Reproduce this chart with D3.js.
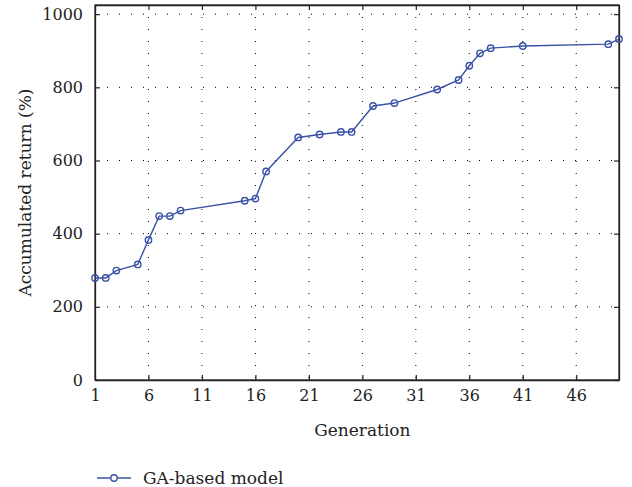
<!DOCTYPE html>
<html>
<head>
<meta charset="utf-8">
<script src="https://cdn.jsdelivr.net/npm/d3@7/dist/d3.min.js"></script>
<style>
  body { margin: 0; background: #fff; }
  svg text { fill: #222; }
</style>
</head>
<body>
<svg id="chart" width="632" height="487"></svg>
<script>
var generations = [1, 2, 3, 5, 6, 7, 8, 9, 15, 16, 17, 20, 22, 24, 25, 27, 29, 33, 35, 36, 37, 38, 41, 49, 50];
var returns = [279, 279, 299, 316, 383, 448, 448, 463, 490, 496, 570, 663, 671, 678, 678, 749, 757, 794, 820, 859, 893, 907, 913, 918, 932];
var xTicks = [1, 6, 11, 16, 21, 26, 31, 36, 41, 46];
var yTicks = [0, 200, 400, 600, 800, 1000];
var seriesName = "GA-based model";

var serif = "'DejaVu Serif', 'Liberation Serif', serif";

var margin = { top: 5, right: 13, bottom: 107, left: 95 },
  svg = d3.select("#chart"),
  outerWidth = 632, outerHeight = 487,
  innerWidth = outerWidth - margin.left - margin.right,
  innerHeight = outerHeight - margin.top - margin.bottom,
  color = "#3a52a6",
  g = svg.append("g").attr("transform", "translate(" + margin.left + "," + margin.top + ")");

var x = d3.scaleLinear().domain([1, 50]).range([0, innerWidth]),
  y = d3.scaleLinear().domain([0, 1025]).range([innerHeight, 0]);

var data = generations.map(function(d, i) { return { gen: d, val: returns[i] }; });

// dotted grid
g.append("g").selectAll("line")
  .data(xTicks.slice(1))
  .enter().append("line")
    .attr("x1", x).attr("x2", x)
    .attr("y1", 0).attr("y2", innerHeight)
    .attr("stroke", "#000").attr("stroke-width", 1)
    .attr("stroke-dasharray", "1,11");
g.append("g").selectAll("line")
  .data(yTicks.slice(1))
  .enter().append("line")
    .attr("y1", y).attr("y2", y)
    .attr("x1", 0).attr("x2", innerWidth)
    .attr("stroke", "#000").attr("stroke-width", 1)
    .attr("stroke-dasharray", "1,11");

// axes
var xAxis = g.append("g")
  .attr("transform", "translate(0," + innerHeight + ")")
  .call(d3.axisBottom(x).tickValues(xTicks).tickSizeInner(-5).tickSizeOuter(0).tickPadding(9));
var yAxis = g.append("g")
  .call(d3.axisLeft(y).tickValues(yTicks).tickFormat(d3.format("d")).tickSizeInner(-5).tickSizeOuter(0).tickPadding(12));
var topAxis = g.append("g")
  .call(d3.axisTop(x).tickValues(xTicks).tickSizeInner(-5).tickSizeOuter(0));
var rightAxis = g.append("g")
  .attr("transform", "translate(" + innerWidth + ",0)")
  .call(d3.axisRight(y).tickValues(yTicks).tickSizeInner(-5).tickSizeOuter(0));
// mirrored axes carry ticks only
topAxis.selectAll("text").remove();
rightAxis.selectAll("text").remove();

g.selectAll("g").attr("font-family", serif);
g.selectAll(".domain").attr("stroke", "#222").attr("stroke-width", 1.3);
g.selectAll(".tick line").attr("stroke", "#222").attr("stroke-width", 1.2);
g.selectAll(".tick text").attr("font-size", 16).attr("fill", "#222")
  .style("font-family", serif);
xAxis.selectAll(".tick text").attr("dy", "0.75em");

// box frame
g.append("rect")
  .attr("width", innerWidth).attr("height", innerHeight)
  .attr("fill", "none").attr("stroke", "#222").attr("stroke-width", 1.2);

// line + markers
var line = d3.line()
  .x(function(d) { return x(d.gen); })
  .y(function(d) { return y(d.val); });

g.append("path")
  .datum(data)
  .attr("fill", "none")
  .attr("stroke", color)
  .attr("stroke-width", 1.4)
  .attr("d", line);

g.selectAll(".pt")
  .data(data)
  .enter().append("circle")
    .attr("class", "pt")
    .attr("cx", function(d) { return x(d.gen); })
    .attr("cy", function(d) { return y(d.val); })
    .attr("r", 3.2)
    .attr("fill", "none")
    .attr("stroke", color)
    .attr("stroke-width", 1.4);

// axis titles
svg.append("text")
  .attr("x", margin.left + x(26))
  .attr("y", 436)
  .attr("text-anchor", "middle")
  .attr("font-size", 17)
  .style("font-family", serif)
  .text("Generation");

svg.append("text")
  .attr("transform", "translate(31," + (margin.top + innerHeight / 2) + ") rotate(-90)")
  .attr("text-anchor", "middle")
  .attr("font-size", 17)
  .style("font-family", serif)
  .text("Accumulated return (%)");

// legend
var legend = svg.append("g").attr("transform", "translate(97,478)");
legend.append("line")
  .attr("x1", 0).attr("x2", 34)
  .attr("stroke", color).attr("stroke-width", 1.4);
legend.append("circle")
  .attr("cx", 17).attr("r", 3.2)
  .attr("fill", "#fff").attr("stroke", color).attr("stroke-width", 1.4);
legend.append("text")
  .attr("x", 46).attr("y", 0).attr("dy", "0.35em")
  .attr("font-size", 17)
  .style("font-family", serif)
  .text(seriesName);
</script>
</body>
</html>
